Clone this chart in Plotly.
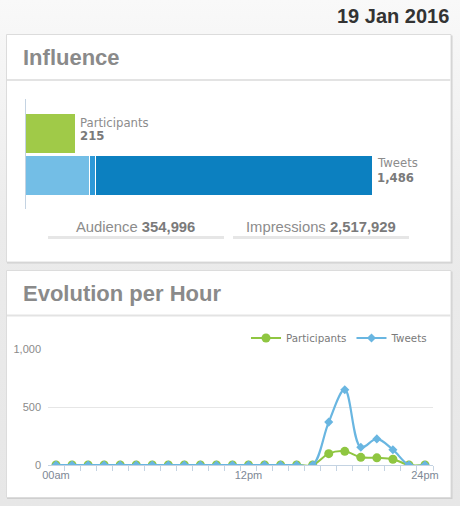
import base64
import plotly.graph_objects as go

# ---------------- data ----------------
report_date = "19 Jan 2016"
influence_categories = ["Participants", "Tweets"]
participants_total = 215
tweets_total = 1486
tweet_segments = [274, 28, 1184]          # stacked parts of the Tweets bar
audience = 354996
impressions = 2517929

hours = list(range(24))
hour_tick_vals = [0, 12, 23]
hour_tick_text = ["00am", "12pm", "24pm"]
participants_per_hour = [0] * 17 + [98, 118, 66, 62, 50, 0, 0]
tweets_per_hour = [0] * 17 + [370, 649, 153, 225, 132, 0, 0]
y_tick_vals = [0, 500, 1000]
y_tick_text = ["0", "500", "1,000"]

# ---------------- styles ----------------
W, H = 460, 506
GREEN = "#8fc641"
GREEN_BAR = "#a0ca48"
BLUE = "#69b6e1"
SEG_COLORS = ["#73bee6", "#2d99d8", "#0c80c0"]
AXIS = "#c4d3e2"
SANS = "Liberation Sans, Arial, sans-serif"
DEJA = "DejaVu Sans, Verdana, sans-serif"


def px(x):
    return x / W


def py(y):
    return 1 - y / H


fig = go.Figure()

# ---- influence bars ----
fig.add_trace(go.Bar(
    x=[participants_total], y=[1], orientation="h", width=0.95,
    marker=dict(color=GREEN_BAR, line=dict(color="white", width=1)),
    xaxis="x", yaxis="y", showlegend=False, hoverinfo="skip"))
for val, col in zip(tweet_segments, SEG_COLORS):
    fig.add_trace(go.Bar(
        x=[val], y=[0], orientation="h", width=0.95,
        marker=dict(color=col, line=dict(color="white", width=1)),
        xaxis="x", yaxis="y", showlegend=False, hoverinfo="skip"))

# ---- evolution lines ----
fig.add_trace(go.Scatter(
    x=hours, y=participants_per_hour, name="Participants", mode="lines+markers",
    line=dict(color=GREEN, width=2, shape="spline"),
    marker=dict(symbol="circle", size=9, color=GREEN),
    xaxis="x2", yaxis="y2", cliponaxis=True))
fig.add_trace(go.Scatter(
    x=hours, y=tweets_per_hour, name="Tweets", mode="lines+markers",
    line=dict(color=BLUE, width=2.2, shape="spline"),
    marker=dict(symbol="diamond", size=7, color=BLUE),
    xaxis="x2", yaxis="y2", cliponaxis=True))

# ---- background gradient ----
svg = (f'<svg xmlns="http://www.w3.org/2000/svg" width="{W}" height="{H}">'
       '<defs><linearGradient id="g" x1="0" y1="0" x2="0" y2="1">'
       '<stop offset="0" stop-color="#f9f9f9"/>'
       '<stop offset="0.45" stop-color="#ebebeb"/>'
       '<stop offset="1" stop-color="#e7e7e7"/>'
       '</linearGradient></defs>'
       f'<rect width="{W}" height="{H}" fill="url(#g)"/></svg>')
src = "data:image/svg+xml;base64," + base64.b64encode(svg.encode()).decode()

shapes = []
for top, bottom, sep in [(34.5, 262, 80), (270.5, 497.5, 315.5)]:
    shapes.append(dict(type="rect", xref="paper", yref="paper", layer="below",
                       x0=px(7), x1=px(452.5), y0=py(top + 1), y1=py(bottom + 1.5),
                       fillcolor="#cfcfcf", line=dict(width=0)))
    shapes.append(dict(type="rect", xref="paper", yref="paper", layer="below",
                       x0=px(6.5), x1=px(451), y0=py(top), y1=py(bottom),
                       fillcolor="white", line=dict(color="#dcdcdc", width=1)))
    shapes.append(dict(type="line", xref="paper", yref="paper", layer="below",
                       x0=px(7), x1=px(450.5), y0=py(sep), y1=py(sep),
                       line=dict(color="#e3e3e3", width=2)))
for x0, x1 in [(48, 224), (233, 409)]:
    shapes.append(dict(type="line", xref="paper", yref="paper", layer="below",
                       x0=px(x0), x1=px(x1), y0=py(237.5), y1=py(237.5),
                       line=dict(color="#e6e6e6", width=3)))

annotations = [
    dict(text=f"<b>{report_date}</b>", xref="paper", yref="paper",
         x=px(451), y=py(15.5), xanchor="right", yanchor="middle", showarrow=False,
         font=dict(family=SANS, size=20, color="#333333")),
    dict(text="<b>Influence</b>", xref="paper", yref="paper",
         x=px(20.5), y=py(57), xanchor="left", yanchor="middle", showarrow=False,
         font=dict(family=SANS, size=22, color="#8a8a8a")),
    dict(text="<b>Evolution per Hour</b>", xref="paper", yref="paper",
         x=px(20.5), y=py(293), xanchor="left", yanchor="middle", showarrow=False,
         font=dict(family=SANS, size=22, color="#8a8a8a")),
    dict(text=influence_categories[0], xref="x", yref="paper",
         x=participants_total, y=py(122.5), xanchor="left", yanchor="middle",
         xshift=2, showarrow=False, font=dict(family=DEJA, size=11.7, color="#8c8c8c")),
    dict(text=f"<b>{participants_total:,}</b>", xref="x", yref="paper",
         x=participants_total, y=py(136), xanchor="left", yanchor="middle",
         xshift=2, showarrow=False, font=dict(family=DEJA, size=11.7, color="#7a7a7a")),
    dict(text=influence_categories[1], xref="x", yref="paper",
         x=tweets_total, y=py(163), xanchor="left", yanchor="middle",
         xshift=3, showarrow=False, font=dict(family=DEJA, size=11.7, color="#8c8c8c")),
    dict(text=f"<b>{tweets_total:,}</b>", xref="x", yref="paper",
         x=tweets_total, y=py(177.5), xanchor="left", yanchor="middle",
         xshift=3, showarrow=False, font=dict(family=DEJA, size=11.7, color="#7a7a7a")),
    dict(text=f'<span style="color:#8c8c8c">Audience </span><b>{audience:,}</b>',
         xref="paper", yref="paper", x=px(135.5), y=py(227), xanchor="center",
         yanchor="middle", showarrow=False,
         font=dict(family=SANS, size=14.8, color="#7a7a7a")),
    dict(text=f'<span style="color:#8c8c8c">Impressions </span><b>{impressions:,}</b>',
         xref="paper", yref="paper", x=px(321), y=py(227), xanchor="center",
         yanchor="middle", showarrow=False,
         font=dict(family=SANS, size=14.8, color="#7a7a7a")),
]

bar_scale = (372 - 25.5) / tweets_total
fig.update_layout(
    width=W, height=H, margin=dict(l=0, r=0, t=0, b=0, pad=0, autoexpand=False),
    paper_bgcolor="#ebebeb", plot_bgcolor="rgba(0,0,0,0)",
    barmode="stack", bargap=0,
    images=[dict(source=src, xref="paper", yref="paper", x=0, y=1, sizex=1, sizey=1,
                 sizing="stretch", layer="below", xanchor="left", yanchor="top")],
    shapes=shapes, annotations=annotations,
    xaxis=dict(domain=[px(25.5), px(437.5)], range=[0, (437.5 - 25.5) / bar_scale],
               visible=False, anchor="y", fixedrange=True, automargin=False),
    yaxis=dict(domain=[py(209), py(99)], range=[-0.786, 1.833], anchor="x",
               showticklabels=False, showgrid=False, zeroline=False, ticks="",
               showline=True, linecolor=AXIS, linewidth=1, fixedrange=True,
               automargin=False),
    xaxis2=dict(domain=[px(48), px(433)], range=[-0.5, 23.5], anchor="y2",
                tickmode="array", tickvals=hour_tick_vals, ticktext=hour_tick_text,
                ticks="", showgrid=False, zeroline=False,
                showline=True, linecolor=AXIS, linewidth=1,
                minor=dict(tickmode="array", tickvals=[h + 0.5 for h in hours],
                           ticks="outside", ticklen=5, tickcolor=AXIS, tickwidth=1,
                           showgrid=False),
                tickfont=dict(family=SANS, size=11, color="#7d8895"),
                ticklabelstandoff=0, fixedrange=True, automargin=False),
    yaxis2=dict(domain=[py(465), py(349)], range=[0, 1000], anchor="x2",
                tickmode="array", tickvals=y_tick_vals, ticktext=y_tick_text,
                ticks="", showgrid=True, gridcolor="#e6e6e6", gridwidth=1,
                zeroline=False, showline=False,
                tickfont=dict(family=SANS, size=11, color="#8a8a8a"),
                ticklabelstandoff=6, fixedrange=True, automargin=False),
    legend=dict(orientation="h", x=px(433), xanchor="right", y=py(338), yanchor="middle",
                bgcolor="rgba(0,0,0,0)", font=dict(family=DEJA, size=10.3, color="#7a7a7a"),
                itemwidth=30, tracegroupgap=0, traceorder="normal"),
    showlegend=True,
)

fig.write_html(
    "out.html",
    config={"displayModeBar": False, "responsive": False},
    post_script="document.body.style.margin='0';document.body.style.overflow='hidden';",
)
